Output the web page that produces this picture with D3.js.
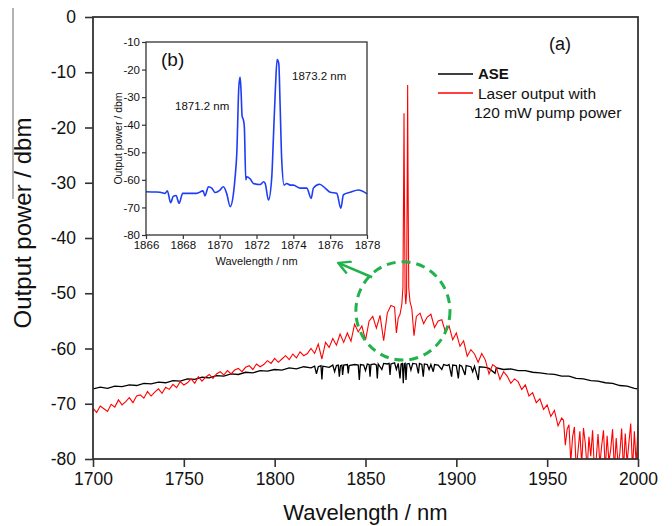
<!DOCTYPE html>
<html>
<head>
<meta charset="utf-8">
<script src="https://cdn.jsdelivr.net/npm/d3@7"></script>
<style>
  body { margin: 0; background: #fff; }
  svg { display: block; font-family: "Liberation Sans", Arial, sans-serif; }
</style>
</head>
<body>
<svg id="chart" width="672" height="526"></svg>
<script>
// main axes
const xTicks = [1700, 1750, 1800, 1850, 1900, 1950, 2000];
const yTicks = [0, -10, -20, -30, -40, -50, -60, -70, -80];

// ASE spectrum, [wavelength nm, dBm]
const aseData = [
  [1700,-67.3],[1704,-67.0],[1708,-67.2],[1712,-66.8],[1716,-66.9],[1720,-66.6],[1724,-66.7],[1728,-66.3],
  [1732,-66.4],[1736,-66.1],[1740,-66.2],[1744,-65.8],[1748,-65.9],[1752,-65.5],[1756,-65.6],[1760,-65.2],
  [1764,-65.3],[1768,-64.9],[1772,-65.0],[1776,-64.6],[1780,-64.7],[1784,-64.3],[1788,-64.4],[1792,-64.0],
  [1796,-64.1],[1800,-63.8],[1804,-63.9],[1808,-63.5],[1812,-63.7],[1816,-63.3],[1820,-63.5],[1822,-63.2],
  [1823,-64.6],[1824,-63.3],[1825.5,-63.1],[1826,-65.6],[1826.5,-63.2],[1830,-63.4],[1832,-63.0],[1833,-64.2],
  [1834,-63.1],[1835,-63.0],[1835.6,-65.1],[1836.2,-63.1],[1837,-63.0],[1837.4,-64.8],[1838,-63.0],[1840,-62.9],
  [1840.5,-64.5],[1841,-63.1],[1844,-62.9],[1846,-63.0],[1846.6,-65.7],[1847.2,-62.9],[1849,-63.0],[1850,-64.0],
  [1851,-62.8],[1852,-62.9],[1852.5,-65.1],[1853,-62.9],[1855,-62.8],[1856,-63.0],[1856.5,-65.4],[1857,-62.8],
  [1859,-63.8],[1860,-62.7],[1862,-62.8],[1863,-62.7],[1863.5,-64.8],[1864,-62.8],[1866,-62.6],[1867,-63.8],
  [1868,-62.7],[1869,-65.4],[1869.6,-62.8],[1870.3,-62.7],[1870.8,-66.3],[1871.3,-62.8],[1871.8,-62.7],[1872.3,-65.7],
  [1872.8,-62.8],[1874,-62.7],[1875,-63.9],[1876,-62.7],[1878,-62.8],[1879.1,-64.5],[1879.7,-62.7],[1881,-62.9],
  [1881.8,-65.1],[1882.4,-62.8],[1884,-62.9],[1885,-63.8],[1886,-62.9],[1887.3,-64.2],[1888,-62.9],[1890,-63.0],
  [1892,-63.8],[1893,-62.9],[1895,-63.1],[1896,-62.9],[1897.4,-65.1],[1898,-63.0],[1900,-63.1],[1901.1,-65.4],
  [1901.8,-63.0],[1903,-63.2],[1904.8,-64.8],[1905.4,-63.1],[1908,-63.3],[1909,-64.2],[1910,-63.2],[1912.1,-65.7],
  [1912.7,-63.3],[1916,-63.4],[1918,-63.6],[1921.3,-64.5],[1922,-63.5],[1926,-63.8],[1930,-63.7],[1934,-64.0],
  [1938,-64.0],[1942,-64.3],[1946,-64.4],[1950,-64.6],[1954,-64.7],[1958,-65.0],[1962,-65.0],[1966,-65.4],
  [1970,-65.5],[1974,-65.8],[1978,-65.9],[1982,-66.2],[1986,-66.3],[1990,-66.7],[1994,-66.8],[1998,-67.2],[2000,-67.3]
];

// laser output, 1700..1864 every 2 nm
const laserLeftStart = 1700;
const laserLeft = [
  -70.8,-71.6,-70.4,-70.9,-71.4,-70.1,-70.6,-69.3,-70.2,-69.6,
  -68.9,-69.8,-68.6,-68.4,-69.0,-67.8,-68.6,-67.9,-67.3,-68.1,
  -67.0,-67.4,-66.5,-67.1,-66.0,-66.6,-66.2,-65.5,-66.3,-65.1,
  -65.9,-65.2,-64.7,-65.4,-64.6,-64.2,-64.8,-64.0,-64.6,-63.9,
  -63.6,-64.2,-63.4,-63.1,-63.8,-62.8,-63.3,-62.9,-62.2,-62.7,
  -61.8,-62.5,-61.9,-61.3,-62.0,-61.0,-61.7,-60.6,-61.3,-60.9,
  -60.0,-60.9,-59.2,-61.9,-58.9,-59.8,-58.2,-59.4,-57.4,-58.9,
  -57.2,-58.7,-55.6,-57.0,-55.9,-58.5,-55.0,-54.2,-56.3,-54.0,
  -58.6,-53.6,-52.2
];
// laser lines around 1871 / 1873 nm
const laserPeak = [
  [1866,-52.5],[1867,-57.2],[1868,-54.5],[1869,-53.8],[1870,-52.0],[1870.6,-49],[1871.0,-30],[1871.2,-17.4],
  [1871.4,-30],[1871.8,-50],[1872.2,-52],[1872.6,-50],[1873.0,-28],[1873.2,-12.3],[1873.4,-28],[1873.8,-49],
  [1874.5,-51.5],[1875.5,-52.8],[1876.7,-57.7],[1878,-54.2]
];
// 1880..1958 every 2 nm
const laserRightStart = 1880;
const laserRight = [
  -53.6,-55.5,-54.3,-53.8,-56.2,-55.0,-54.8,-57.0,-55.9,-58.4,
  -57.2,-59.6,-58.6,-61.4,-60.2,-61.0,-62.5,-60.9,-62.1,-64.6,
  -62.9,-63.4,-65.6,-64.2,-65.0,-66.3,-65.5,-66.0,-67.4,-66.6,
  -68.6,-68.0,-69.8,-69.1,-71.0,-70.2,-72.3,-71.2,-74.0,-72.6
];
// 1959..2000 every 1 nm (noise floor)
const laserTailStart = 1959;
const laserTail = [
  -73.0,-77.5,-74.6,-73.8,-80.5,-76.0,-74.2,-82,-78.5,-75.0,-81,-74.4,-77.2,-82,
  -76.0,-79.5,-74.8,-82,-80,-75.5,-81,-77.6,-74.8,-82,-75.8,-80.5,-78.2,-74.6,
  -82,-76.2,-81,-79,-74.5,-82,-75.4,-80.8,-77.0,-73.6,-82,-75.0,-81,-74.0
];

// inset (b)
const insetXTicks = [1866, 1868, 1870, 1872, 1874, 1876, 1878];
const insetYTicks = [-10, -20, -30, -40, -50, -60, -70, -80];
const insetData = [
  [1866,-64.3],[1866.5,-64.4],[1866.76,-64.5],[1867.03,-64.9],[1867.16,-64.0],[1867.34,-68.3],[1867.48,-66.0],
  [1867.63,-65.7],[1867.8,-68.5],[1867.99,-64.9],[1868.75,-64.9],[1869.1,-64.0],[1869.2,-65.8],[1869.39,-62.5],
  [1869.57,-63.0],[1869.75,-64.6],[1870.02,-63.7],[1870.2,-62.5],[1870.38,-64.9],[1870.57,-69.7],[1870.75,-64.9],
  [1870.84,-58.9],[1870.93,-50.4],[1871.04,-26.3],[1871.11,-22.7],[1871.16,-27.5],[1871.22,-37],[1871.29,-38.3],
  [1871.34,-40.8],[1871.42,-60],[1871.47,-58.9],[1871.65,-59.6],[1871.83,-61.3],[1872.2,-61.7],[1872.38,-60.7],
  [1872.47,-61.3],[1872.65,-67.3],[1872.83,-58.9],[1872.92,-44.4],[1873.03,-26.3],[1873.12,-16.4],[1873.21,-17.8],
  [1873.28,-32.3],[1873.37,-52.8],[1873.5,-61.9],[1873.64,-61.3],[1873.83,-61.9],[1874.0,-61.9],[1874.37,-63],
  [1874.73,-63],[1874.97,-66.7],[1875.09,-63],[1875.42,-61.6],[1875.73,-63],[1876,-64.5],[1876.36,-64.9],
  [1876.58,-70.3],[1876.72,-65.4],[1877.09,-64.5],[1877.54,-63.7],[1878,-65.1]
];

// zoom marker (data units)
const zoomCenter = [1870.6, -53.2];
const zoomRadius = [25.9, 8.9];
const arrowFrom = [1853.6, -47.1];
const arrowTo = [1835.0, -44.5];

const svg = d3.select("#chart");
const fmt = d => String(d);

const x = d3.scaleLinear().domain([1700, 2000]).range([93, 638]);
const y = d3.scaleLinear().domain([-80, 0]).range([459, 17]);

const laserData = []
  .concat(laserLeft.map((v, i) => [laserLeftStart + 2 * i, v]))
  .concat(laserPeak)
  .concat(laserRight.map((v, i) => [laserRightStart + 2 * i, v]))
  .concat(laserTail.map((v, i) => [laserTailStart + i, v]));

svg.append("clipPath").attr("id", "plotClip")
  .append("rect")
  .attr("x", x(1700)).attr("y", y(0))
  .attr("width", x(2000) - x(1700)).attr("height", y(-80) - y(0));

const line = d3.line().x(d => x(d[0])).y(d => y(d[1]));

const plot = svg.append("g").attr("clip-path", "url(#plotClip)");

plot.append("path")
  .datum(aseData)
  .attr("fill", "none")
  .attr("stroke", "#000")
  .attr("stroke-width", 1.3)
  .attr("d", line);

plot.append("path")
  .datum(laserData)
  .attr("fill", "none")
  .attr("stroke", "#ff0000")
  .attr("stroke-width", 1.1)
  .attr("d", line);

// axes
const xAxis = svg.append("g")
  .attr("transform", `translate(0,${y(-80)})`)
  .call(d3.axisBottom(x).tickValues(xTicks).tickFormat(fmt).tickSize(8).tickSizeOuter(0).tickPadding(6));
const yAxis = svg.append("g")
  .attr("transform", `translate(${x(1700)},0)`)
  .call(d3.axisLeft(y).tickValues(yTicks).tickFormat(fmt).tickSize(8).tickSizeOuter(0).tickPadding(9));

[xAxis, yAxis].forEach(a => {
  a.select(".domain").remove();
  a.selectAll(".tick line").attr("stroke", "#333").attr("stroke-width", 1.6);
  a.selectAll(".tick text").attr("fill", "#111")
    .style("font-size", "17.5px").style("font-family", "Liberation Sans, Arial, sans-serif");
});

svg.append("rect")
  .attr("x", x(1700)).attr("y", y(0))
  .attr("width", x(2000) - x(1700)).attr("height", y(-80) - y(0))
  .attr("fill", "none").attr("stroke", "#333").attr("stroke-width", 1.8);

svg.append("text")
  .attr("x", (x(1700) + x(2000)) / 2).attr("y", 520)
  .attr("text-anchor", "middle")
  .style("font-size", "22px").attr("fill", "#111")
  .text("Wavelength / nm");

svg.append("text")
  .attr("transform", `translate(31,${(y(0) + y(-80)) / 2 - 15}) rotate(-90)`)
  .attr("text-anchor", "middle")
  .style("font-size", "24px").attr("fill", "#111")
  .text("Output power / dbm");

svg.append("line")
  .attr("x1", 13).attr("x2", 13).attr("y1", 8).attr("y2", 199)
  .attr("stroke", "#666").attr("stroke-width", 1);

svg.append("text")
  .attr("x", 549).attr("y", 50)
  .style("font-size", "18px").attr("fill", "#111")
  .text("(a)");

// legend
const legend = svg.append("g");
legend.append("line")
  .attr("x1", 438).attr("x2", 473).attr("y1", 74).attr("y2", 74)
  .attr("stroke", "#000").attr("stroke-width", 1.3);
legend.append("line")
  .attr("x1", 438).attr("x2", 473).attr("y1", 93).attr("y2", 93)
  .attr("stroke", "#ff0000").attr("stroke-width", 1.3);
legend.append("text")
  .attr("x", 478).attr("y", 79)
  .style("font-size", "15px").style("font-weight", "bold").attr("fill", "#111")
  .text("ASE");
legend.append("text")
  .attr("x", 478).attr("y", 98.5)
  .style("font-size", "15.5px").attr("fill", "#111")
  .text("Laser output with");
legend.append("text")
  .attr("x", 474).attr("y", 118)
  .style("font-size", "15.5px").attr("fill", "#111")
  .text("120 mW pump power");

// zoom circle and arrow
const green = "#22b24c";
svg.append("ellipse")
  .attr("cx", x(zoomCenter[0])).attr("cy", y(zoomCenter[1]))
  .attr("rx", x(zoomCenter[0] + zoomRadius[0]) - x(zoomCenter[0]))
  .attr("ry", y(zoomCenter[1] - zoomRadius[1]) - y(zoomCenter[1]))
  .attr("fill", "none").attr("stroke", green)
  .attr("stroke-width", 3).attr("stroke-dasharray", "9,6");

svg.append("defs").append("marker")
  .attr("id", "arrowHead")
  .attr("viewBox", "0 0 14 14")
  .attr("refX", 13).attr("refY", 7)
  .attr("markerWidth", 14).attr("markerHeight", 14)
  .attr("markerUnits", "userSpaceOnUse")
  .attr("orient", "auto")
  .append("path")
  .attr("d", "M1,0.5 L13,7 L1,13.5")
  .attr("fill", "none").attr("stroke", green).attr("stroke-width", 2.4);

svg.append("line")
  .attr("x1", x(arrowFrom[0])).attr("y1", y(arrowFrom[1]))
  .attr("x2", x(arrowTo[0])).attr("y2", y(arrowTo[1]))
  .attr("stroke", green).attr("stroke-width", 2.6)
  .attr("marker-end", "url(#arrowHead)");

// inset (b)
const ix = d3.scaleLinear().domain([1866, 1878]).range([146, 367]);
const iy = d3.scaleLinear().domain([-80, -10]).range([235, 42]);

const inset = svg.append("g");
inset.append("rect")
  .attr("x", ix(1866)).attr("y", iy(-10))
  .attr("width", ix(1878) - ix(1866)).attr("height", iy(-80) - iy(-10))
  .attr("fill", "#fff");

inset.append("path")
  .datum(insetData)
  .attr("fill", "none")
  .attr("stroke", "#1f3df5")
  .attr("stroke-width", 1.6)
  .attr("d", d3.line().curve(d3.curveMonotoneX).x(d => ix(d[0])).y(d => iy(d[1])));

const ixAxis = inset.append("g")
  .attr("transform", `translate(0,${iy(-80)})`)
  .call(d3.axisBottom(ix).tickValues(insetXTicks).tickFormat(fmt).tickSize(4).tickSizeOuter(0).tickPadding(2));
const iyAxis = inset.append("g")
  .attr("transform", `translate(${ix(1866)},0)`)
  .call(d3.axisLeft(iy).tickValues(insetYTicks).tickFormat(fmt).tickSize(4).tickSizeOuter(0).tickPadding(2));

[ixAxis, iyAxis].forEach(a => {
  a.select(".domain").remove();
  a.selectAll(".tick line").attr("stroke", "#333").attr("stroke-width", 1.2);
  a.selectAll(".tick text").attr("fill", "#111")
    .style("font-size", "11.5px").style("font-family", "Liberation Sans, Arial, sans-serif");
});

inset.append("rect")
  .attr("x", ix(1866)).attr("y", iy(-10))
  .attr("width", ix(1878) - ix(1866)).attr("height", iy(-80) - iy(-10))
  .attr("fill", "none").attr("stroke", "#333").attr("stroke-width", 1.3);

inset.append("text")
  .attr("x", (ix(1866) + ix(1878)) / 2).attr("y", 265)
  .attr("text-anchor", "middle")
  .style("font-size", "11px").attr("fill", "#111")
  .text("Wavelength / nm");

inset.append("text")
  .attr("transform", `translate(122,${(iy(-10) + iy(-80)) / 2}) rotate(-90)`)
  .attr("text-anchor", "middle")
  .style("font-size", "10.5px").attr("fill", "#111")
  .text("Output power / dbm");

inset.append("text")
  .attr("x", 161).attr("y", 66)
  .style("font-size", "19px").attr("fill", "#111")
  .text("(b)");
inset.append("text")
  .attr("x", 292).attr("y", 80)
  .style("font-size", "11.5px").attr("fill", "#111")
  .text("1873.2 nm");
inset.append("text")
  .attr("x", 175).attr("y", 110)
  .style("font-size", "11.5px").attr("fill", "#111")
  .text("1871.2 nm");
</script>
</body>
</html>
